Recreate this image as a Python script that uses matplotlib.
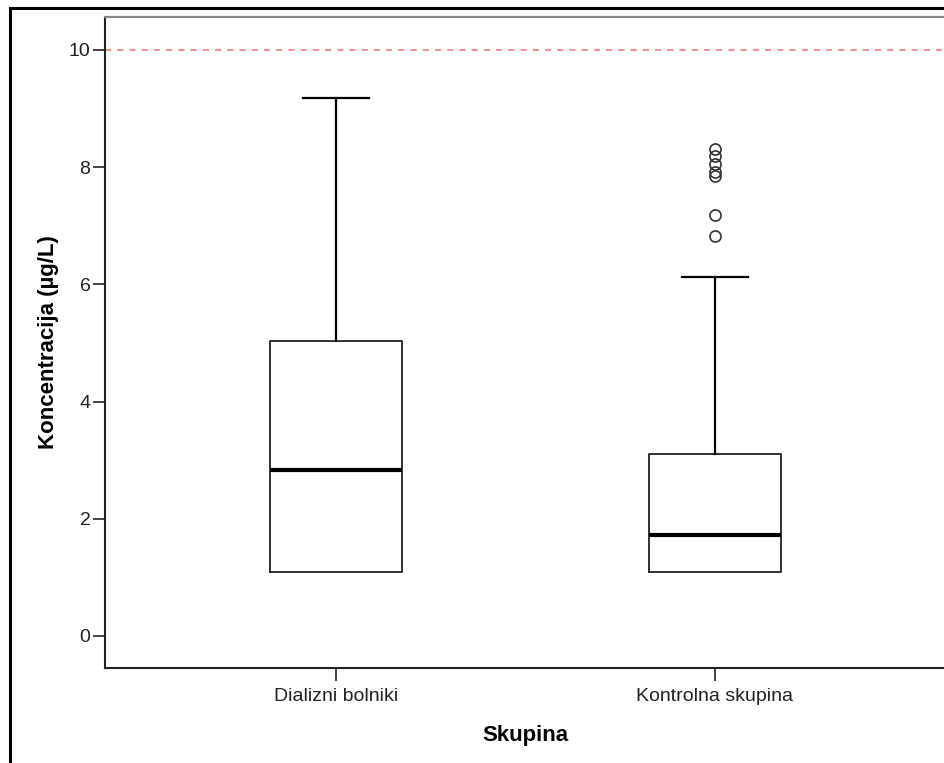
import matplotlib
matplotlib.use("Agg")
import matplotlib.pyplot as plt
from matplotlib.patches import Rectangle

plt.rcParams['font.family'] = ['Liberation Sans', 'DejaVu Sans']

# box summaries
groups = ["Dializni bolniki", "Kontrolna skupina"]
q1 = [1.09, 1.09]
median = [2.83, 1.72]
q3 = [5.03, 3.11]
whislo = [1.09, 1.09]
whishi = [9.17, 6.13]
fliers = [[], [6.83, 7.18, 7.85, 7.92, 8.05, 8.19, 8.31]]
ref_line = 10

stats = []
for i in range(len(groups)):
    stats.append(dict(label=groups[i], q1=q1[i], med=median[i], q3=q3[i],
                      whislo=whislo[i], whishi=whishi[i], fliers=fliers[i]))

fig = plt.figure(figsize=(9.44, 7.63), dpi=100)
ax = fig.add_axes([105/944, 1 - 668/763, 841/944, 651/763])

# outer frame (only left and top visible)
fig.patches.append(Rectangle((10/944, -0.1), 1.2, (1 - 8/763) + 0.1,
                             transform=fig.transFigure, fill=False,
                             edgecolor='black', linewidth=2.2, zorder=0))

bp = ax.bxp(stats, positions=[1, 2], widths=0.35, showfliers=True,
            boxprops=dict(color='#222222', linewidth=1.3),
            medianprops=dict(color='black', linewidth=3),
            whiskerprops=dict(color='black', linewidth=1.6),
            capprops=dict(color='black', linewidth=1.6),
            capwidths=0.175,
            flierprops=dict(marker='o', markerfacecolor='none', markeredgecolor='#333333',
                            markersize=8, markeredgewidth=1.2))
# lower caps sit on the box edge, hide them
for c in bp['caps'][0::2]:
    c.set_visible(False)

ax.axhline(ref_line, color='#f07070', linestyle=(0, (4, 4)), linewidth=1.1, zorder=0)

ax.set_xlim(0.39, 2.61)
ax.set_ylim(-0.546, 10.56)
ax.set_yticks([0, 2, 4, 6, 8, 10])
ax.set_xticks([1, 2])
ax.set_xticklabels(groups)
ax.tick_params(axis='both', direction='out', length=9, width=1.3, color='#333333',
               labelsize=14, labelcolor='#222222', pad=1.5)
ax.tick_params(axis='x', pad=5.5)

for s in ['left', 'bottom']:
    ax.spines[s].set_linewidth(1.5)
    ax.spines[s].set_color('#222222')
ax.spines['top'].set_color('#888888')
ax.spines['top'].set_linewidth(1.5)
ax.spines['right'].set_visible(False)

ax.set_ylabel("Koncentracija (µg/L)", fontsize=16, fontweight='bold', labelpad=7)
ax.set_xlabel("Skupina", fontsize=16, fontweight='bold', labelpad=14)

fig.savefig("out.png", dpi=100)
